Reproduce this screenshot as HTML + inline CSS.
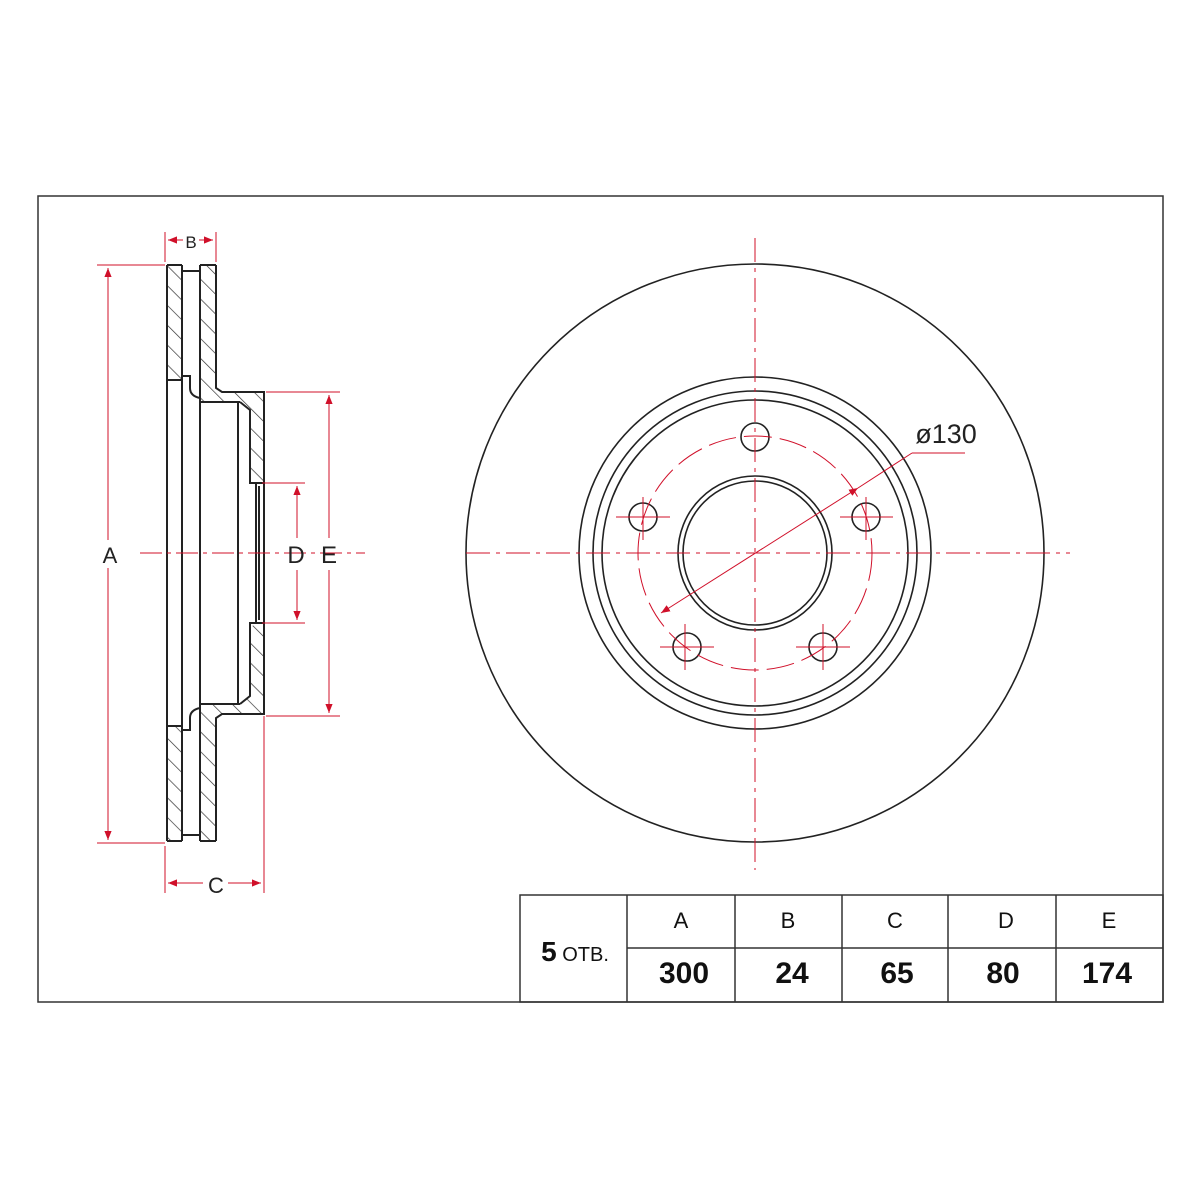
<!DOCTYPE html>
<html><head><meta charset="utf-8"><style>
html,body{margin:0;padding:0;background:#fff;}
svg{display:block;}
text{font-family:"Liberation Sans",sans-serif;}
</style></head><body>
<svg width="1200" height="1200" viewBox="0 0 1200 1200" xmlns="http://www.w3.org/2000/svg">
<defs>
<pattern id="h1" patternUnits="userSpaceOnUse" width="14" height="14" patternTransform="rotate(-45)">
<line x1="0" y1="0" x2="0" y2="14" stroke="#333" stroke-width="1.4"/>
</pattern>
<pattern id="h2" patternUnits="userSpaceOnUse" width="14" height="14" patternTransform="rotate(45)">
<line x1="0" y1="0" x2="0" y2="14" stroke="#333" stroke-width="1.4"/>
</pattern>
<marker id="ar" viewBox="0 0 10 10" refX="10" refY="5" markerWidth="9" markerHeight="9" orient="auto-start-reverse">
<path d="M0,1 L10,5 L0,9 z" fill="#d0102a"/>
</marker>
<g id="half">
<rect x="167" y="265" width="15" height="115"/>
<polygon points="200,265 216,265 216,388 222,392 264,392 264,483 256,483 250,478 250,410 240,402 200,402"/>
<g fill="none" stroke="#222" stroke-width="2">
<line x1="167" y1="265" x2="167" y2="553"/>
<line x1="182" y1="265" x2="182" y2="553"/>
<line x1="167" y1="265" x2="182" y2="265"/>
<line x1="167" y1="380" x2="182" y2="380"/>
<line x1="182" y1="271" x2="200" y2="271"/>
<path d="M182,376 L190,376 L190,388 Q190,396 200,398"/>
<line x1="200" y1="265" x2="216" y2="265"/>
<line x1="200" y1="265" x2="200" y2="553"/>
<path d="M216,265 L216,388 L222,392 L264,392 L264,553"/>
<line x1="200" y1="402" x2="240" y2="402"/>
<path d="M240,402 L250,410 L250,483 L256,483 L256,553"/>
<line x1="238" y1="402" x2="238" y2="553"/>
<line x1="250" y1="483" x2="264" y2="483"/>
<line x1="259" y1="486" x2="259" y2="553"/>
</g>
</g>
</defs>
<rect x="38" y="196" width="1125" height="806" fill="none" stroke="#333" stroke-width="1.5"/>

<!-- side view -->
<use href="#half" fill="url(#h1)"/>
<use href="#half" fill="url(#h2)" transform="translate(0,1106) scale(1,-1)"/>
<g stroke="#d0102a" stroke-width="1" fill="none">
<line x1="140" y1="553" x2="365" y2="553" stroke-dasharray="22,5,4,5"/>
<line x1="97" y1="265" x2="165" y2="265"/>
<line x1="97" y1="843" x2="165" y2="843"/>
<line x1="108" y1="268" x2="108" y2="540" marker-start="url(#ar)"/>
<line x1="108" y1="568" x2="108" y2="840" marker-end="url(#ar)"/>
<line x1="165" y1="232" x2="165" y2="262"/>
<line x1="216" y1="232" x2="216" y2="262"/>
<line x1="168" y1="240" x2="183" y2="240" marker-start="url(#ar)"/>
<line x1="199" y1="240" x2="213" y2="240" marker-end="url(#ar)"/>
<line x1="165" y1="846" x2="165" y2="893"/>
<line x1="264" y1="716" x2="264" y2="893"/>
<line x1="168" y1="883" x2="203" y2="883" marker-start="url(#ar)"/>
<line x1="228" y1="883" x2="261" y2="883" marker-end="url(#ar)"/>
<line x1="266" y1="392" x2="340" y2="392"/>
<line x1="266" y1="716" x2="340" y2="716"/>
<line x1="329" y1="395" x2="329" y2="538" marker-start="url(#ar)"/>
<line x1="329" y1="570" x2="329" y2="713" marker-end="url(#ar)"/>
<line x1="262" y1="483" x2="305" y2="483"/>
<line x1="262" y1="623" x2="305" y2="623"/>
<line x1="297" y1="486" x2="297" y2="538" marker-start="url(#ar)"/>
<line x1="297" y1="570" x2="297" y2="620" marker-end="url(#ar)"/>
</g>
<g font-size="22" fill="#222" text-anchor="middle">
<text x="110" y="563">A</text>
<text x="191" y="248" font-size="17">B</text>
<text x="216" y="893">C</text>
<text x="296" y="563" font-size="24">D</text>
<text x="329" y="563" font-size="24">E</text>
</g>

<!-- front view -->
<g fill="none" stroke="#222" stroke-width="1.6">
<circle cx="755" cy="553" r="289"/>
<circle cx="755" cy="553" r="176"/>
<circle cx="755" cy="553" r="162"/>
<circle cx="755" cy="553" r="153"/>
<circle cx="755" cy="553" r="77"/>
<circle cx="755" cy="553" r="72"/>
<circle cx="755" cy="437" r="14"/>
<circle cx="866" cy="517" r="14"/>
<circle cx="643" cy="517" r="14"/>
<circle cx="687" cy="647" r="14"/>
<circle cx="823" cy="647" r="14"/>
</g>
<g stroke="#d0102a" stroke-width="1" fill="none">
<line x1="755" y1="238" x2="755" y2="870" stroke-dasharray="24,6,4,6"/>
<line x1="466" y1="553" x2="1070" y2="553" stroke-dasharray="24,6,4,6"/>
<circle cx="755" cy="553" r="117" stroke-dasharray="28,8"/>
<line x1="661" y1="613" x2="858" y2="488" marker-start="url(#ar)" marker-end="url(#ar)"/>
<line x1="858" y1="488" x2="912" y2="453"/>
<line x1="912" y1="453" x2="965" y2="453"/>
<line x1="616" y1="517" x2="670" y2="517"/><line x1="643" y1="497" x2="643" y2="540"/>
<line x1="840" y1="517" x2="893" y2="517"/><line x1="866" y1="497" x2="866" y2="540"/>
<line x1="660" y1="647" x2="714" y2="647"/><line x1="685" y1="624" x2="685" y2="670"/>
<line x1="796" y1="647" x2="850" y2="647"/><line x1="823" y1="624" x2="823" y2="670"/>
</g>
<text x="946" y="443" font-size="27" fill="#222" text-anchor="middle" font-family="DejaVu Sans">ø130</text>

<!-- table -->
<g stroke="#333" stroke-width="1.5" fill="none">
<rect x="520" y="895" width="643" height="107"/>
<line x1="627" y1="895" x2="627" y2="1002"/>
<line x1="735" y1="895" x2="735" y2="1002"/>
<line x1="842" y1="895" x2="842" y2="1002"/>
<line x1="948" y1="895" x2="948" y2="1002"/>
<line x1="1056" y1="895" x2="1056" y2="1002"/>
<line x1="627" y1="948" x2="1163" y2="948"/>
</g>
<g fill="#111" text-anchor="middle">
<g font-size="22"><text x="681" y="928">A</text><text x="788" y="928">B</text><text x="895" y="928">C</text><text x="1006" y="928">D</text><text x="1109" y="928">E</text></g>
<g font-size="30" font-weight="bold" font-family="DejaVu Sans Condensed,Liberation Sans Narrow,sans-serif"><text x="684" y="983">300</text><text x="792" y="983">24</text><text x="897" y="983">65</text><text x="1003" y="983">80</text><text x="1107" y="983">174</text></g>
<text x="575" y="961" font-size="20"><tspan font-size="28" font-weight="bold">5</tspan> ОТВ.</text>
</g>
</svg>
</body></html>
